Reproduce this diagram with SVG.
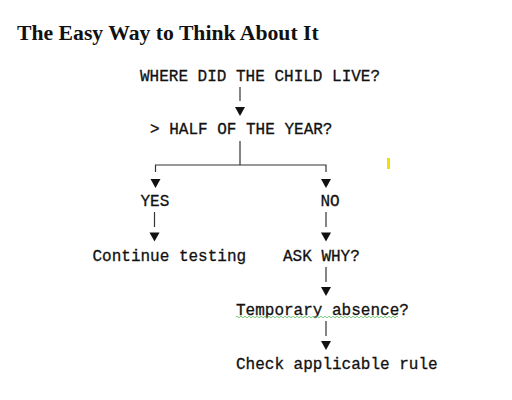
<svg xmlns="http://www.w3.org/2000/svg" width="512" height="400" viewBox="0 0 512 400">
<style>
.t{font-family:"Liberation Serif","Times New Roman",serif;font-weight:bold;font-size:21.7px;fill:#111}
.m{font-family:"Liberation Mono","Courier New",monospace;font-size:16px;fill:#111;stroke:#111;stroke-width:0.3}
.c{stroke:#333;stroke-width:1.2;fill:none}
</style>
<defs>
<polygon id="arr" points="-5,0 5,0 0,9" fill="#111"/>
</defs>
<rect width="512" height="400" fill="#fff"/>
<text class="t" x="17" y="40">The Easy Way to Think About It</text>
<g id="n1"><text class="m" x="140" y="80.5">WHERE DID THE CHILD LIVE?</text></g>
<g id="n2"><text class="m" x="150" y="134">&gt; HALF OF THE YEAR?</text></g>
<g id="n3"><text class="m" x="140.5" y="206">YES</text></g>
<g id="n4"><text class="m" x="320.5" y="206">NO</text></g>
<g id="n5"><text class="m" x="92.5" y="261">Continue testing</text></g>
<g id="n6"><text class="m" x="283" y="261">ASK WHY?</text></g>
<g id="n7"><text class="m" x="236" y="314.5">Temporary absence?</text>
<path d="M236,317 q1,-1.5 2,0 t2,0 t2,0 t2,0 t2,0 t2,0 t2,0 t2,0 t2,0 t2,0 t2,0 t2,0 t2,0 t2,0 t2,0 t2,0 t2,0 t2,0 t2,0 t2,0 t2,0 t2,0 t2,0 t2,0 t2,0 t2,0 t2,0 t2,0 t2,0 t2,0 t2,0 t2,0 t2,0 t2,0 t2,0 t2,0 t2,0 t2,0 t2,0 t2,0 t2,0 t2,0 t2,0 t2,0 t2,0 t2,0 t2,0 t2,0 t2,0 t2,0 t2,0 t2,0 t2,0 t2,0 t2,0 t2,0 t2,0 t2,0 t2,0 t2,0 t2,0 t2,0 t2,0 t2,0 t2,0 t2,0 t2,0 t2,0 t2,0 t2,0 t2,0 t2,0 t2,0 t2,0 t2,0 t2,0 t2,0 t2,0 t2,0 t2,0 t2,0" fill="none" stroke="#5cb85c" stroke-width="0.8"/></g>
<g id="n8"><text class="m" x="236" y="368.5">Check applicable rule</text></g>
<rect x="387" y="158" width="3" height="11" fill="#f2e000"/>
<g id="connectors">
<path class="c" d="M240,87 V101"/>
<use href="#arr" x="240" y="107"/>
<path class="c" d="M240,141 V165 M155.5,172 V165 H326 V172"/>
<use href="#arr" x="155.5" y="179"/>
<use href="#arr" x="326" y="179"/>
<path class="c" d="M154.5,212 V227"/>
<use href="#arr" x="154.5" y="232.5"/>
<path class="c" d="M326,212 V227"/>
<use href="#arr" x="326" y="232.5"/>
<path class="c" d="M326,267 V282"/>
<use href="#arr" x="326" y="287"/>
<path class="c" d="M326,321 V336"/>
<use href="#arr" x="326" y="341"/>
</g>
</svg>
